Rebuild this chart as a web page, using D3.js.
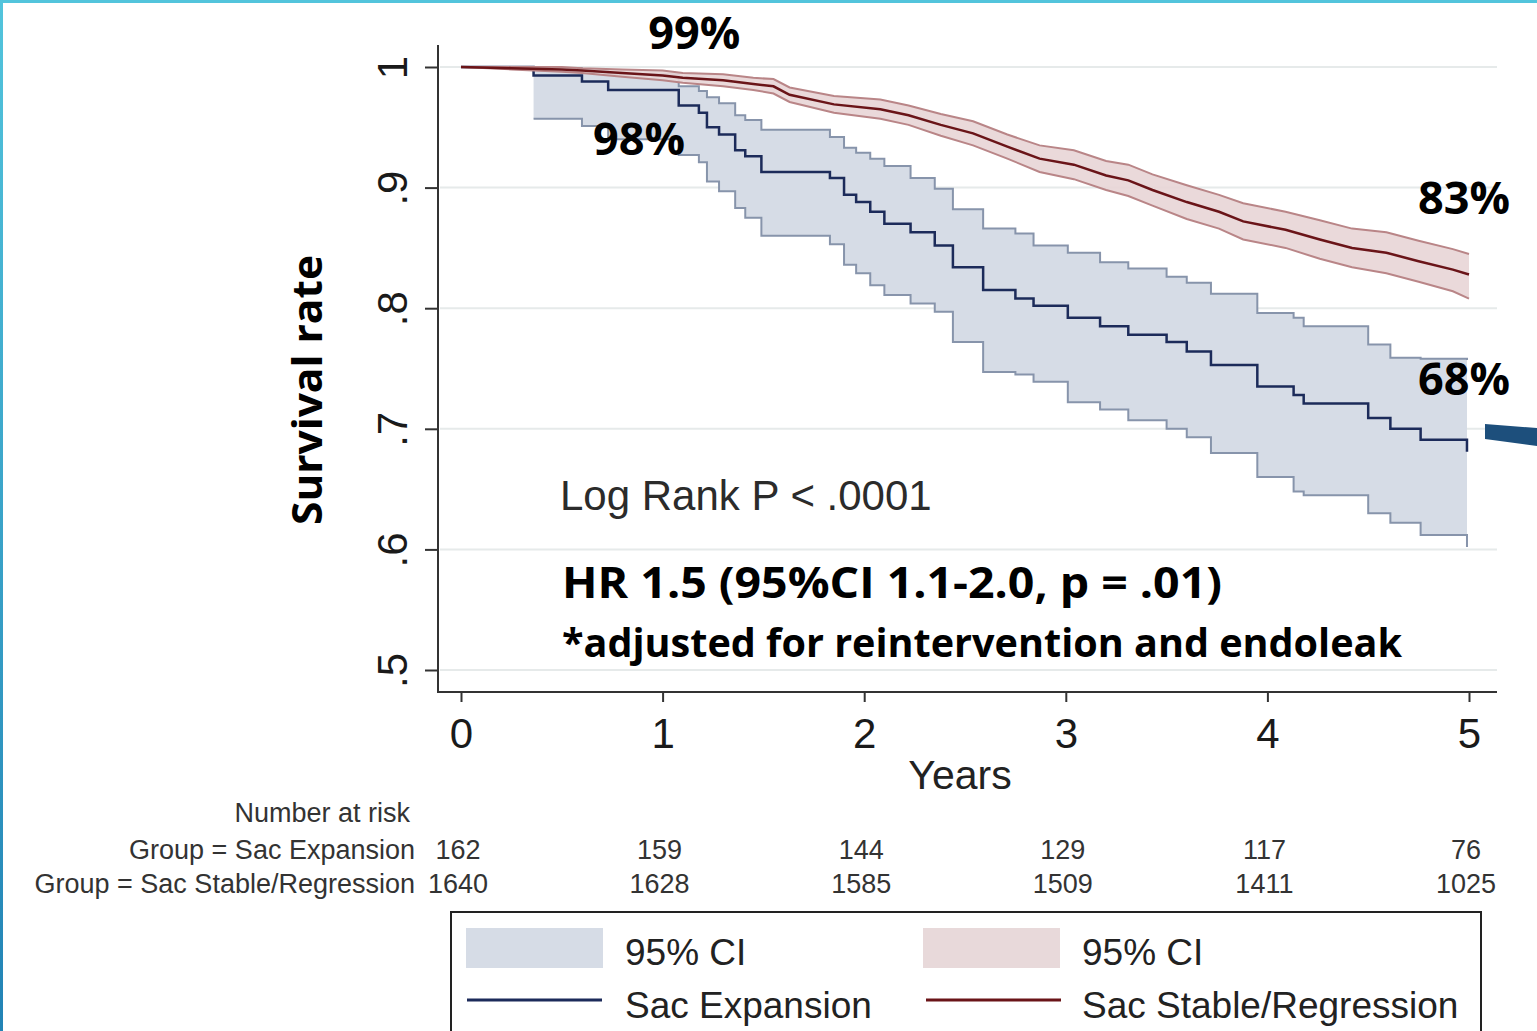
<!DOCTYPE html>
<html>
<head>
<meta charset="utf-8">
<script src="https://cdn.jsdelivr.net/npm/d3@7"></script>
<style>
  html, body { margin: 0; padding: 0; background: #fff; }
  svg { display: block; }
</style>
</head>
<body>
<div id="chart"></div>
<script>
// tick labels
const years = [0, 1, 2, 3, 4, 5];
const yTicks = [0.5, 0.6, 0.7, 0.8, 0.9, 1];
const yTickLabels = [".5", ".6", ".7", ".8", ".9", "1"];

// Sac Expansion (step curve + 95% CI)
const expT  = [0, 0.36, 0.60, 0.73, 1.08, 1.18, 1.22, 1.28, 1.36, 1.41, 1.49, 1.83, 1.90, 1.96, 2.03, 2.10, 2.23, 2.35, 2.44, 2.59, 2.75, 2.84, 3.01, 3.17, 3.31, 3.50, 3.60, 3.72, 3.95, 4.13, 4.18, 4.50, 4.61, 4.76, 4.99];
const expS  = [1, 0.993, 0.988, 0.981, 0.968, 0.962, 0.950, 0.944, 0.931, 0.926, 0.913, 0.908, 0.894, 0.888, 0.880, 0.870, 0.863, 0.852, 0.834, 0.815, 0.808, 0.802, 0.792, 0.785, 0.778, 0.772, 0.764, 0.753, 0.735, 0.728, 0.721, 0.709, 0.700, 0.691, 0.681];
const expLo = [null, 0.957, 0.951, 0.940, 0.927, 0.921, 0.905, 0.897, 0.883, 0.875, 0.860, 0.853, 0.836, 0.829, 0.819, 0.811, 0.804, 0.797, 0.772, 0.747, 0.745, 0.739, 0.722, 0.716, 0.707, 0.700, 0.693, 0.680, 0.660, 0.648, 0.645, 0.630, 0.622, 0.612, 0.602];
const expHi = [null, 0.999, 0.997, 0.994, 0.984, 0.980, 0.975, 0.970, 0.960, 0.956, 0.948, 0.942, 0.933, 0.929, 0.924, 0.918, 0.908, 0.899, 0.882, 0.866, 0.862, 0.852, 0.846, 0.838, 0.833, 0.826, 0.821, 0.812, 0.796, 0.792, 0.785, 0.770, 0.759, 0.758, 0.757];

// Sac Stable/Regression
const stbT  = [0, 0.25, 0.50, 0.60, 0.80, 1.00, 1.10, 1.30, 1.45, 1.55, 1.63, 1.85, 2.08, 2.22, 2.38, 2.54, 2.71, 2.87, 3.04, 3.20, 3.31, 3.43, 3.60, 3.76, 3.88, 4.09, 4.26, 4.42, 4.59, 4.75, 4.92, 5.00];
const stbS  = [1.000, 0.999, 0.998, 0.997, 0.995, 0.993, 0.991, 0.989, 0.986, 0.984, 0.977, 0.969, 0.965, 0.960, 0.952, 0.945, 0.934, 0.924, 0.919, 0.910, 0.906, 0.898, 0.888, 0.880, 0.872, 0.865, 0.857, 0.850, 0.846, 0.839, 0.832, 0.828];
const stbHi = [1.000, 1.000, 1.000, 0.999, 0.998, 0.997, 0.995, 0.994, 0.991, 0.990, 0.983, 0.976, 0.973, 0.968, 0.961, 0.955, 0.944, 0.935, 0.931, 0.922, 0.919, 0.911, 0.902, 0.894, 0.887, 0.880, 0.873, 0.866, 0.863, 0.856, 0.849, 0.845];
const stbLo = [1.000, 0.998, 0.996, 0.995, 0.992, 0.989, 0.987, 0.984, 0.981, 0.978, 0.971, 0.962, 0.957, 0.952, 0.943, 0.935, 0.924, 0.913, 0.907, 0.898, 0.893, 0.885, 0.874, 0.866, 0.857, 0.850, 0.841, 0.834, 0.829, 0.822, 0.814, 0.808];

// number at risk
const riskGroups = ["Group = Sac Expansion", "Group = Sac Stable/Regression"];
const riskExpansion = [162, 159, 144, 129, 117, 76];
const riskStable = [1640, 1628, 1585, 1509, 1411, 1025];

// percentage call-outs
const pctText = ["99%", "98%", "83%", "68%"];
const pctYear = [1.157, 0.883, 4.975, 4.975];
const pctRate = [1.015, 0.927, 0.878, 0.728];

const width = 1537;
const height = 1031;
const helv = "'Liberation Sans', Arial, Helvetica, sans-serif";
const boldFont = "'Open Sans', 'Noto Sans', sans-serif";

const x = d3.scaleLinear().domain([0, 5]).range([461, 1469]);
const y = d3.scaleLinear().domain([0.5, 1]).range([670, 67]);

const svg = d3.select("#chart")
  .append("svg")
  .attr("width", width)
  .attr("height", height);

svg.append("rect").attr("width", width).attr("height", height).attr("fill", "#fff");

// frame border of the slide
const grad = svg.append("defs").append("linearGradient")
  .attr("id", "edge").attr("x1", 0).attr("y1", 0).attr("x2", 0).attr("y2", 1);
grad.append("stop").attr("offset", 0).attr("stop-color", "#52c4dc");
grad.append("stop").attr("offset", 1).attr("stop-color", "#2283b5");
svg.append("rect").attr("x", 0).attr("y", 0).attr("width", width).attr("height", 3).attr("fill", "#52c4dc");
svg.append("rect").attr("x", 0).attr("y", 0).attr("width", 3).attr("height", height).attr("fill", "url(#edge)");

// grid
svg.append("g")
  .attr("stroke", "#e6eaea")
  .attr("stroke-width", 2)
  .selectAll("line")
  .data(yTicks)
  .join("line")
    .attr("x1", 440)
    .attr("x2", 1497)
    .attr("y1", d => y(d))
    .attr("y2", d => y(d));

// build data rows
const exp = expT.map((t, i) => ({ t, s: expS[i], lo: expLo[i], hi: expHi[i] }));
const expCI = exp.filter(d => d.lo != null);
const stb = stbT.map((t, i) => ({ t, s: stbS[i], lo: stbLo[i], hi: stbHi[i] }));

const stepArea = d3.area().curve(d3.curveStepAfter)
  .x(d => x(d.t)).y0(d => y(d.lo)).y1(d => y(d.hi));
const stepLine = key => d3.line().curve(d3.curveStepAfter).x(d => x(d.t)).y(d => y(d[key]));
const smoothArea = d3.area().x(d => x(d.t)).y0(d => y(d.lo)).y1(d => y(d.hi));
const smoothLine = key => d3.line().x(d => x(d.t)).y(d => y(d[key]));

// Sac Expansion CI
svg.append("path").datum(expCI).attr("d", stepArea).attr("fill", "#d6dce6");
["lo", "hi"].forEach(k => {
  svg.append("path").datum(expCI).attr("d", stepLine(k))
    .attr("fill", "none").attr("stroke", "#8794ab").attr("stroke-width", 2);
});
svg.append("path").datum(exp).attr("d", stepLine("s"))
  .attr("fill", "none").attr("stroke", "#1c2b5a").attr("stroke-width", 2.5);

// Sac Stable/Regression CI
svg.append("path").datum(stb).attr("d", smoothArea).attr("fill", "#e8d5d6").attr("fill-opacity", 0.9);
["lo", "hi"].forEach(k => {
  svg.append("path").datum(stb).attr("d", smoothLine(k))
    .attr("fill", "none").attr("stroke", "#b98587").attr("stroke-width", 2);
});
svg.append("path").datum(stb).attr("d", smoothLine("s"))
  .attr("fill", "none").attr("stroke", "#6a1418").attr("stroke-width", 2.5);

// axes
const yAxis = svg.append("g")
  .attr("transform", "translate(438,0)")
  .call(d3.axisLeft(y).tickValues(yTicks).tickFormat((d, i) => yTickLabels[i]).tickSize(13));
yAxis.select(".domain").remove();
yAxis.selectAll(".tick line").attr("stroke", "#333").attr("stroke-width", 2);
yAxis.selectAll(".tick text")
  .attr("font-family", helv).attr("font-size", 42).attr("fill", "#1a1a1a")
  .attr("text-anchor", "middle")
  .attr("transform", "rotate(-90)")
  .attr("x", 0).attr("y", -31).attr("dy", 0);
svg.append("line").attr("x1", 438).attr("x2", 438).attr("y1", 45).attr("y2", 693)
  .attr("stroke", "#333").attr("stroke-width", 2);

const xAxis = svg.append("g")
  .attr("transform", "translate(0,692)")
  .call(d3.axisBottom(x).tickValues(years).tickFormat(d3.format("d")).tickSize(10).tickPadding(16));
xAxis.select(".domain").remove();
xAxis.selectAll(".tick line").attr("stroke", "#333").attr("stroke-width", 2);
xAxis.selectAll(".tick text")
  .attr("font-family", helv).attr("font-size", 42).attr("fill", "#1a1a1a");
svg.append("line").attr("x1", 437).attr("x2", 1497).attr("y1", 692).attr("y2", 692)
  .attr("stroke", "#333").attr("stroke-width", 2);

svg.append("text")
  .attr("x", 960).attr("y", 789)
  .attr("text-anchor", "middle")
  .attr("font-family", helv).attr("font-size", 41).attr("fill", "#222")
  .text("Years");

svg.append("text")
  .attr("transform", "translate(322,390) rotate(-90)")
  .attr("text-anchor", "middle")
  .attr("font-family", boldFont).attr("font-weight", 700).attr("font-size", 42)
  .attr("textLength", 270).attr("lengthAdjust", "spacingAndGlyphs")
  .text("Survival rate");

// percentage call-outs
svg.append("g")
  .attr("font-family", boldFont).attr("font-weight", 700).attr("font-size", 45)
  .attr("text-anchor", "middle")
  .selectAll("text")
  .data(pctText)
  .join("text")
    .attr("x", (d, i) => x(pctYear[i]))
    .attr("y", (d, i) => y(pctRate[i]))
    .text(d => d);

// statistics
svg.append("text")
  .attr("x", 560).attr("y", 510)
  .attr("font-family", helv).attr("font-size", 42).attr("fill", "#2b2b2b")
  .text("Log Rank P < .0001");
svg.append("text")
  .attr("x", 562).attr("y", 598)
  .attr("font-family", boldFont).attr("font-weight", 700).attr("font-size", 43)
  .attr("textLength", 660).attr("lengthAdjust", "spacingAndGlyphs")
  .text("HR 1.5 (95%CI 1.1-2.0, p = .01)");
svg.append("text")
  .attr("x", 562).attr("y", 657)
  .attr("font-family", boldFont).attr("font-weight", 700).attr("font-size", 39)
  .attr("textLength", 840).attr("lengthAdjust", "spacingAndGlyphs")
  .text("*adjusted for reintervention and endoleak");

// number at risk table
const risk = svg.append("g").attr("font-family", helv).attr("font-size", 27).attr("fill", "#333");
risk.append("text").attr("x", 410).attr("y", 822).attr("text-anchor", "end").text("Number at risk");
[riskExpansion, riskStable].forEach((row, r) => {
  const yy = 859 + r * 34;
  risk.append("text").attr("x", 415).attr("y", yy).attr("text-anchor", "end").text(riskGroups[r]);
  risk.selectAll(null)
    .data(row)
    .join("text")
      .attr("x", (d, i) => x(years[i]) - 3)
      .attr("y", yy)
      .attr("text-anchor", "middle")
      .text(d => d);
});

// legend
const lg = svg.append("g");
lg.append("rect").attr("x", 451).attr("y", 912).attr("width", 1030).attr("height", 140)
  .attr("fill", "none").attr("stroke", "#222").attr("stroke-width", 2);
const legendItems = [
  { sw: "rect", color: "#d6dce6", label: "95% CI", lx: 466, tx: 625, row: 0 },
  { sw: "rect", color: "#e8d9da", label: "95% CI", lx: 923, tx: 1082, row: 0 },
  { sw: "line", color: "#1c2b5a", label: "Sac Expansion", lx: 467, tx: 625, row: 1 },
  { sw: "line", color: "#6a1418", label: "Sac Stable/Regression", lx: 926, tx: 1082, row: 1 }
];
legendItems.forEach(d => {
  if (d.sw === "rect") {
    lg.append("rect").attr("x", d.lx).attr("y", 928).attr("width", 137).attr("height", 40).attr("fill", d.color);
  } else {
    lg.append("line").attr("x1", d.lx).attr("x2", d.lx + 135).attr("y1", 1000).attr("y2", 1000)
      .attr("stroke", d.color).attr("stroke-width", 3);
  }
  lg.append("text").attr("x", d.tx).attr("y", d.row === 0 ? 965 : 1018)
    .attr("font-family", helv).attr("font-size", 37).attr("fill", "#222")
    .text(d.label);
});

// stray slide connector on the right edge
svg.append("path")
  .attr("d", "M1485,424 L1537,428 L1537,446 L1485,439 Z")
  .attr("fill", "#1d4f7c");
</script>
</body>
</html>
